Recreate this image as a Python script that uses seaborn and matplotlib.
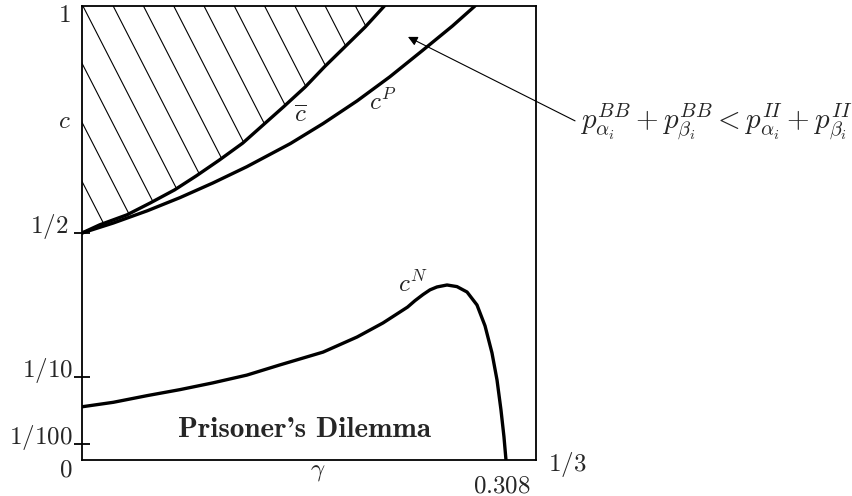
import numpy as np
import matplotlib
matplotlib.use("Agg")
import matplotlib.pyplot as plt
import seaborn as sns
from matplotlib.collections import LineCollection

# plain white look, Computer Modern for the maths
sns.set_theme(style="white")
plt.rcParams["mathtext.fontset"] = "cm"
plt.rcParams["font.family"] = ["DejaVu Serif"]

# curves: gamma on x, c on y
gamma_bar = [0, 0.013, 0.033, 0.050, 0.068, 0.084, 0.101, 0.118, 0.133, 0.148, 0.164, 0.178, 0.193, 0.208, 0.222]
c_bar = [0.500, 0.518, 0.540, 0.566, 0.595, 0.626, 0.661, 0.698, 0.738, 0.778, 0.822, 0.866, 0.910, 0.954, 1.0]

gamma_p = [0, 0.023, 0.048, 0.072, 0.096, 0.121, 0.153, 0.177, 0.202, 0.226, 0.250, 0.272, 0.2885]
c_p = [0.500, 0.522, 0.549, 0.578, 0.610, 0.646, 0.697, 0.741, 0.791, 0.844, 0.902, 0.956, 1.0]

gamma_n = [0, 0.023, 0.048, 0.072, 0.096, 0.121, 0.145, 0.177, 0.202, 0.221, 0.230, 0.239,
           0.2445, 0.2504, 0.2555, 0.2606, 0.268, 0.2753, 0.2827, 0.290, 0.2959, 0.301,
           0.3047, 0.3076, 0.3098, 0.3113]
c_n = [0.060, 0.066, 0.075, 0.083, 0.092, 0.105, 0.133, 0.169, 0.211, 0.250, 0.272, 0.294,
       0.312, 0.329, 0.342, 0.350, 0.3555, 0.351, 0.336, 0.300, 0.242, 0.167,
       0.096, 0.056, 0.020, 0.0]

# the c axis is stretched: tick values and where they sit (fraction of axis height)
y_ticks = [0, 0.01, 0.1, 0.5, 1]
y_pos = [0, 0.035, 0.183, 0.5, 1]
y_tick_labels = ["$0$", "$1/100$", "$1/10$", "$1/2$", "$1$"]
gamma_mark = 0.308
gamma_max = 1 / 3


def fwd(v):
    return np.interp(v, y_ticks, y_pos)


def inv(v):
    return np.interp(v, y_pos, y_ticks)


fig = plt.figure(figsize=(8.52, 4.96), dpi=100)
ax = fig.add_axes([82 / 852, 36 / 496, 454 / 852, 454 / 496])
ax.set_yscale("function", functions=(fwd, inv))

# the three boundary curves
sns.lineplot(x=gamma_bar, y=c_bar, ax=ax, color="black", linewidth=2.4, sort=False)
sns.lineplot(x=gamma_p, y=c_p, ax=ax, color="black", linewidth=2.4, sort=False)
sns.lineplot(x=gamma_n, y=c_n, ax=ax, color="black", linewidth=2.4, sort=False)

# hatched region above c-bar (steep hatch lines clipped to the region)
fill = ax.fill_between(gamma_bar, c_bar, 1, facecolor="none", edgecolor="none")
segs = []
for x0 in np.arange(0.002 - 0.0667 * 6, 1, 0.0667):
    segs.append([(x0, 1), (x0 + 0.6, 1 - 0.6 * 1.95)])
hatch = LineCollection(segs, colors="black", linewidths=0.8, transform=ax.transAxes, zorder=1)
ax.add_collection(hatch, autolim=False)
hatch.set_clip_path(fill.get_paths()[0], ax.transData)

ax.set_xlim(0, gamma_max)
ax.set_ylim(0, 1)

for s in ax.spines.values():
    s.set_color("black")
    s.set_linewidth(1.3)

ax.set_xticks([])
ax.set_yticks(y_ticks[1:4])
ax.set_yticklabels([])
ax.tick_params(axis="y", left=True, direction="inout", length=11, width=1.3, color="black")

fs = 18
# y tick labels, placed by hand like the original
ax.text(-0.022, -0.037, y_tick_labels[0], transform=ax.transAxes, ha="right", va="baseline", fontsize=fs)
ax.text(-0.022, y_pos[1], y_tick_labels[1], transform=ax.transAxes, ha="right", va="baseline", fontsize=fs)
ax.text(-0.020, y_pos[2], y_tick_labels[2], transform=ax.transAxes, ha="right", va="baseline", fontsize=fs)
ax.text(-0.031, y_pos[3], y_tick_labels[3], transform=ax.transAxes, ha="right", va="baseline", fontsize=fs)
ax.text(-0.024, 0.965, y_tick_labels[4], transform=ax.transAxes, ha="right", va="baseline", fontsize=fs)
ax.text(-0.024, 0.731, "$c$", transform=ax.transAxes, ha="right", va="baseline", fontsize=fs)

# x labels
ax.text(0.52, -0.035, r"$\gamma$", transform=ax.transAxes, ha="center", va="baseline", fontsize=fs)
ax.text(gamma_mark, -0.0705, "$0.308$", transform=ax.get_xaxis_transform(), ha="center", va="baseline", fontsize=fs)
ax.text(1.026, -0.024, "$1/3$", transform=ax.transAxes, ha="left", va="baseline", fontsize=fs)

# curve names
ax.text(0.482, 0.760, r"$\overline{c}$", transform=ax.transAxes, ha="center", va="center", fontsize=fs)
ax.text(0.663, 0.789, "$c^P$", transform=ax.transAxes, ha="center", va="center", fontsize=fs)
ax.text(0.729, 0.388, "$c^N$", transform=ax.transAxes, ha="center", va="center", fontsize=fs)
ax.text(0.491, 0.066, "Prisoner's Dilemma", transform=ax.transAxes, ha="center", va="center",
        fontsize=21, family=["cmb10", "DejaVu Serif"])

# arrow to the region between c-bar and c^P
ax.annotate("", xy=(0.718, 0.932), xytext=(1.086, 0.747), xycoords="axes fraction",
            textcoords="axes fraction", annotation_clip=False,
            arrowprops=dict(arrowstyle="-|>", color="black", lw=0.8, mutation_scale=14,
                            shrinkA=0, shrinkB=0))
ax.text(1.097, 0.731, r"$p^{BB}_{\alpha_i}+p^{BB}_{\beta_i}<p^{II}_{\alpha_i}+p^{II}_{\beta_i}$",
        transform=ax.transAxes, ha="left", va="baseline", fontsize=21)

fig.savefig("out.png", dpi=100)
